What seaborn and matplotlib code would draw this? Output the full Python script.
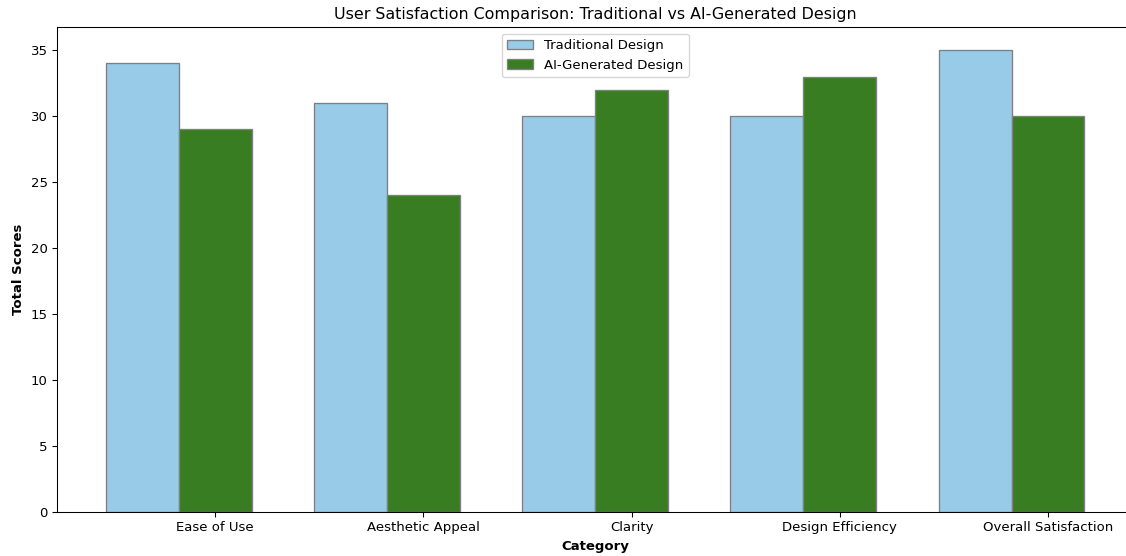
import numpy as np
import pandas as pd
import matplotlib
matplotlib.use('Agg')
import matplotlib.pyplot as plt
import seaborn as sns

categories = ['Ease of Use', 'Aesthetic Appeal', 'Clarity', 'Design Efficiency', 'Overall Satisfaction']
traditional_scores = [34, 31, 30, 30, 35]
ai_scores = [29, 24, 32, 33, 30]
series_names = ['Traditional Design', 'AI-Generated Design']
colors = ['#97CBE8', '#387D22']

df = pd.DataFrame({
    'Category': categories * 2,
    'Score': traditional_scores + ai_scores,
    'Design': [series_names[0]] * len(categories) + [series_names[1]] * len(categories),
})

BAR_WIDTH = 0.35
DPI = 95.4

fig, ax = plt.subplots(figsize=(1126 / DPI, 556 / DPI), dpi=DPI)
sns.barplot(data=df, x='Category', y='Score', hue='Design', hue_order=series_names,
            palette=colors, saturation=1, width=2 * BAR_WIDTH, edgecolor='grey',
            linewidth=1, errorbar=None, ax=ax)

n = len(categories)
ax.set_xticks(np.arange(n) + BAR_WIDTH / 2)
ax.set_xticklabels(categories)
pad = (n - 1 + 2 * BAR_WIDTH) * 0.05
ax.set_xlim(-BAR_WIDTH - pad, n - 1 + BAR_WIDTH + pad)
ax.set_ylim(0, max(traditional_scores + ai_scores) * 1.05)

ax.set_xlabel('Category', fontweight='bold')
ax.set_ylabel('Total Scores', fontweight='bold')
ax.set_title('User Satisfaction Comparison: Traditional vs AI-Generated Design')
ax.legend(loc='upper center', title=None)

# right spine falls just past the image edge in the reference
plt.subplots_adjust(left=0.0506, right=1.0065, top=0.9514, bottom=0.0791)
plt.savefig('out.png', dpi=DPI)
plt.close()
